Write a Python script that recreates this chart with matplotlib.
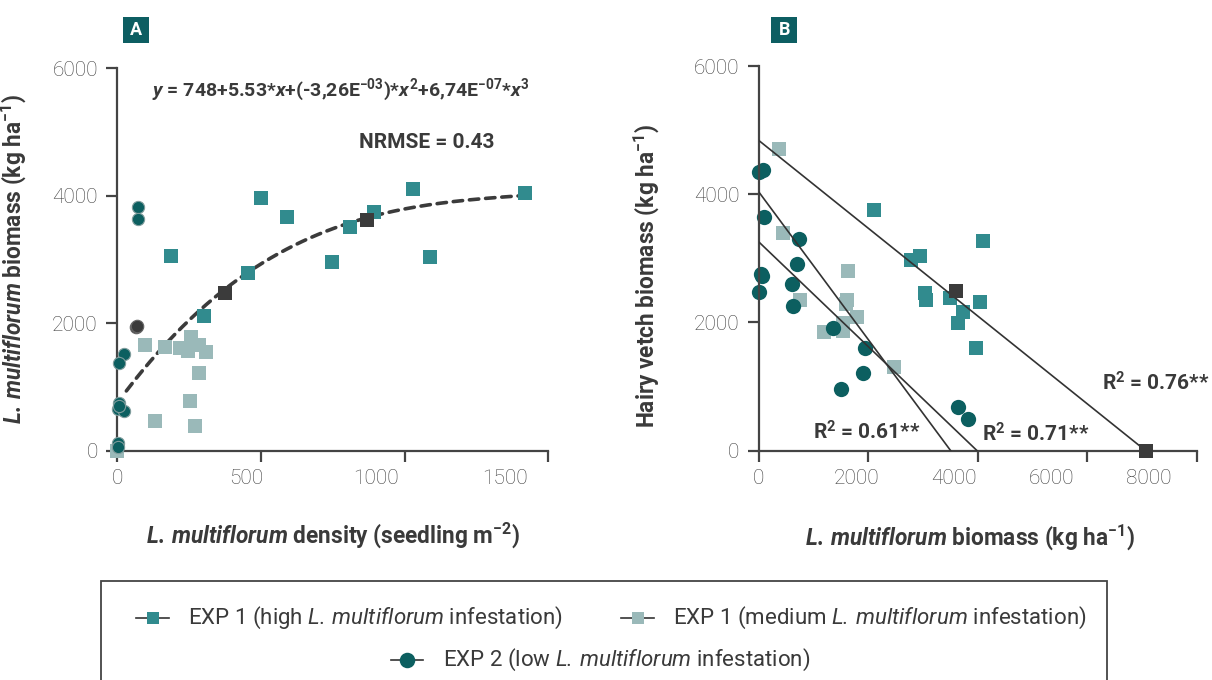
import matplotlib
matplotlib.use("Agg")
import matplotlib.pyplot as plt
import numpy as np
from matplotlib.lines import Line2D
from matplotlib.patches import Rectangle

plt.rcParams['font.family'] = ['Roboto', 'DejaVu Sans']
plt.rcParams['mathtext.fontset'] = 'custom'
plt.rcParams['mathtext.rm'] = 'Roboto:bold'
plt.rcParams['mathtext.it'] = 'Roboto:italic:bold'
plt.rcParams['mathtext.bf'] = 'Roboto:bold'
plt.rcParams['mathtext.sf'] = 'Roboto:italic'

HIGH = '#318b8e'
MEDIUM = '#9ab9b9'
LOW = '#0c5f60'
MEAN = '#3b3b3b'
AXIS = '#444444'
TICKTXT = '#404040'
TXT = '#3a3a3a'

# ---- panel A: density vs L. multiflorum biomass ----
a_high_x = [206, 558, 657, 506, 335, 831, 902, 994, 1145, 1211, 1579]
a_high_y = [3060, 3970, 3662, 2793, 2113, 2956, 3505, 3745, 4101, 3034, 4038]
a_med_x = [107, 184, 244, 274, 287, 316, 345, 316, 281, 146, 301, 0]
a_med_y = [1654, 1622, 1607, 1569, 1789, 1658, 1544, 1214, 775, 461, 388, 0]
a_low_x = [79, 79, 24, 5, 5, 3, 24, 6, 3, 3]
a_low_y = [3828, 3635, 1517, 1371, 744, 654, 623, 700, 116, 63]
a_mean_sq_x = [418, 967]
a_mean_sq_y = [2470, 3620]
a_mean_ci_x = [74, 76]
a_mean_ci_y = [1936, 1960]
# fitted cubic printed on the chart
fit_coef = [748, 5.53, -3.26e-03, 6.74e-07]
fit_range = [35, 1575]

# ---- panel B: L. multiflorum biomass vs hairy vetch biomass ----
b_high_x = [2369, 4603, 3127, 3305, 3414, 3428, 3920, 4535, 4193, 4090, 4459]
b_high_y = [3748, 3264, 2968, 3035, 2454, 2345, 2376, 2314, 2158, 1986, 1596]
b_med_x = [423, 505, 1836, 846, 1816, 1789, 2020, 1734, 1734, 1344, 2779]
b_med_y = [4699, 3389, 2797, 2345, 2349, 2282, 2080, 1996, 1866, 1846, 1310]
b_low_x = [0, 94, 109, 826, 785, 61, 0, 689, 709, 1529, 2184, 2143, 1686, 4084, 4283, 40]
b_low_y = [4350, 4376, 3639, 3300, 2906, 2728, 2479, 2604, 2261, 1908, 1596, 1207, 957, 686, 494, 2760]
b_mean_x = [4049, 7930]
b_mean_y = [2485, 0]
# regression lines: (x0, y0) -> (x1, y1)
reg_lines = {
    'R$^{2}$ = 0.76**': ((0, 4840), (7930, 0)),
    'R$^{2}$ = 0.71**': ((0, 3258), (4475, 0)),
    'R$^{2}$ = 0.61**': ((0, 4038), (3934, 0)),
}
reg_label_pos = {
    'R$^{2}$ = 0.76**': (7029, 1051),
    'R$^{2}$ = 0.71**': (4570, 260),
    'R$^{2}$ = 0.61**': (1119, 296),
}

a_xtick_labels = [0, 500, 1000, 1500]
b_xtick_labels = [0, 2000, 4000, 6000, 8000]
y_ticks = [0, 2000, 4000, 6000]

LM_BOLD = r'$\mathit{L.\,multiflorum}$'
LM_REG = r'$\mathsf{L.\,multiflorum}$'

W, H = 1212, 680
fig = plt.figure(figsize=(W / 100, H / 100), dpi=100)


def fx(px):
    return px / W


def fy(py):
    return 1 - py / H


axA = fig.add_axes([fx(117.3), fy(450.7), (548.3 - 117.3) / W, (450.7 - 68.3) / H])
axB = fig.add_axes([fx(758.7), fy(450.7), (1196.7 - 758.7) / W, (450.7 - 66) / H])


def style_axes(ax, xmax, nticks, labels):
    ax.set_xlim(0, xmax)
    ax.set_ylim(0, 6000)
    for s in ['top', 'right']:
        ax.spines[s].set_visible(False)
    for s in ['left', 'bottom']:
        ax.spines[s].set_color(AXIS)
        ax.spines[s].set_linewidth(1.6)
    ax.xaxis.remove_overlapping_locs = False
    ax.set_xticks(np.linspace(0, xmax, nticks), minor=True)
    ax.set_xticks(labels)
    ax.set_xticklabels([str(v) for v in labels])
    ax.tick_params(axis='x', which='major', length=0, pad=13)
    ax.tick_params(axis='x', which='minor', length=8, width=1.6, color=AXIS)
    ax.set_yticks(y_ticks)
    ax.set_yticklabels([str(v) for v in y_ticks])
    ax.tick_params(axis='y', length=8, width=1.6, color=AXIS, pad=6)
    ax.tick_params(labelsize=15, labelcolor=TICKTXT)
    for t in ax.get_xticklabels() + ax.get_yticklabels():
        t.set_fontweight('light')


style_axes(axA, 1668, 4, a_xtick_labels)
style_axes(axB, 8975, 5, b_xtick_labels)

# panel A
xs = np.linspace(fit_range[0], fit_range[1], 200)
ys = fit_coef[0] + fit_coef[1] * xs + fit_coef[2] * xs ** 2 + fit_coef[3] * xs ** 3
axA.plot(xs, ys, color=MEAN, lw=2.6, dashes=(2.6, 1.9), dash_capstyle='round', zorder=2)
axA.plot(a_med_x, a_med_y, 's', ms=9.5, color=MEDIUM, mew=0, clip_on=False, zorder=3)
axA.plot(a_high_x, a_high_y, 's', ms=9.5, color=HIGH, mew=0, clip_on=False, zorder=3)
axA.plot(a_low_x, a_low_y, 'o', ms=8.8, color=LOW, mec='#7f9c9c', mew=0.8, clip_on=False, zorder=4)
axA.plot(a_mean_sq_x, a_mean_sq_y, 's', ms=10, color=MEAN, mew=0, zorder=5)
axA.plot(a_mean_ci_x, a_mean_ci_y, 'o', ms=9, color=MEAN, mec='#666666', mew=0.8, zorder=5)

axA.text(136, 5659, r'$\mathit{y}$ = 748+5.53*$\mathit{x}$+(-3,26E$^{-03}$)*$\mathit{x}^{2}$'
         r'+6,74E$^{-07}$*$\mathit{x}^{3}$', fontsize=14, fontweight='bold', color=TXT, va='center')
axA.text(936, 4833, 'NRMSE = 0.43', fontsize=15, fontweight='bold', color=TXT, va='center')

axA.set_ylabel(LM_BOLD + r' biomass (kg ha$^{-1}$)', fontsize=16.3, fontweight='bold', color=TXT)
axA.yaxis.set_label_coords(-0.207, 0.5)
axA.set_xlabel(LM_BOLD + r' density (seedling m$^{-2}$)', fontsize=16.3, fontweight='bold', color=TXT)
axA.xaxis.set_label_coords(0.5, -0.181)

# panel B
axB.plot(b_med_x, b_med_y, 's', ms=9.8, color=MEDIUM, mew=0, clip_on=False, zorder=2)
axB.plot(b_high_x, b_high_y, 's', ms=9.8, color=HIGH, mew=0, clip_on=False, zorder=2)
axB.plot(b_low_x, b_low_y, 'o', ms=11, color=LOW, mew=0, clip_on=False, zorder=2)
for lab, (p0, p1) in reg_lines.items():
    axB.plot([p0[0], p1[0]], [p0[1], p1[1]], color='#333333', lw=1.2, zorder=3)
    lx, ly = reg_label_pos[lab]
    axB.text(lx, ly, lab, fontsize=15, fontweight='bold', color=TXT, va='center')
axB.plot(b_mean_x, b_mean_y, 's', ms=10.5, color=MEAN, mew=0, clip_on=False, zorder=4)

axB.set_ylabel(r'Hairy vetch biomass (kg ha$^{-1}$)', fontsize=16.3, fontweight='bold', color=TXT)
axB.yaxis.set_label_coords(-0.223, 0.454)
axB.set_xlabel(LM_BOLD + r' biomass (kg ha$^{-1}$)', fontsize=16.3, fontweight='bold', color=TXT)
axB.xaxis.set_label_coords(0.482, -0.186)

# panel tags
for tag, x0 in [('A', 122.7), ('B', 771)]:
    fig.patches.append(Rectangle((fx(x0), fy(42.7)), 26.3 / W, 26 / H, transform=fig.transFigure,
                                 color='#0d5e62', lw=0))
    fig.text(fx(x0 + 13.2), fy(29.7), tag, color='white', fontsize=13, fontweight='bold',
             ha='center', va='center')

# legend box
fig.patches.append(Rectangle((fx(100.5), -0.1), (1107 - 100.5) / W, 0.1 + (680 - 581) / H,
                             transform=fig.transFigure, fill=False, ec=AXIS, lw=1.3))
legend_items = [
    (136, 169, 618, 's', HIGH, 12.5 * 0.72, 188, 'EXP 1 (high ' + LM_REG + ' infestation)'),
    (621, 654, 618, 's', MEDIUM, 12.5 * 0.72, 673, 'EXP 1 (medium ' + LM_REG + ' infestation)'),
    (391, 423, 660, 'o', LOW, 15.5 * 0.72, 443, 'EXP 2 (low ' + LM_REG + ' infestation)'),
]
for x0, x1, yy, mk, col, ms, tx, label in legend_items:
    fig.add_artist(Line2D([fx(x0), fx(x1)], [fy(yy), fy(yy)], color='#333333', lw=1.2))
    fig.add_artist(Line2D([fx((x0 + x1) / 2)], [fy(yy)], marker=mk, ms=ms, color=col, mew=0))
    fig.text(fx(tx), fy(yy), label, fontsize=16, color=TXT, va='center')

fig.savefig('out.png', dpi=100)
